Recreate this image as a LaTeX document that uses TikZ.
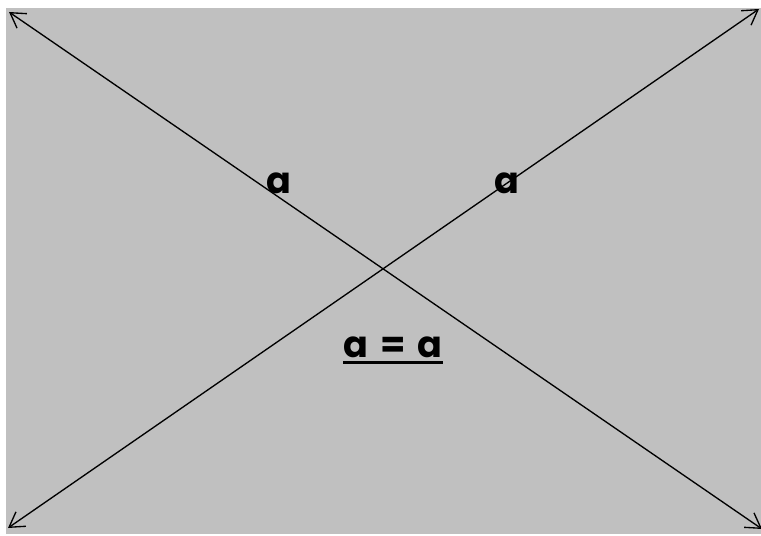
\documentclass[tikz,border=0pt]{standalone}
\usepackage{fontspec}
\setmainfont{Poppins}
\usetikzlibrary{arrows.meta,positioning}
\definecolor{panelgrey}{HTML}{C0C0C0}

\begin{document}
\begin{tikzpicture}[x=0.025cm, y=-0.025cm,
  every node/.style={font=\fontsize{26}{31}\selectfont\bfseries, inner sep=0pt},
  diag/.style={line width=0.95pt, {Straight Barb[length=10.3pt, width=12.5pt]}-{Straight Barb[length=10.3pt, width=12.5pt]}}]
  % frame and grey panel
  \useasboundingbox (0,0) rectangle (761,536);
  \fill[panelgrey] (6,8) rectangle (761,534);

  % corner ends of the two diagonals
  \coordinate (tl) at (9,12);
  \coordinate (br) at (762,529);
  \coordinate (bl) at (8,528);
  \coordinate (tr) at (759,9);

  \draw[diag] (tl) -- (br);
  \draw[diag] (bl) -- (tr);

  % labels
  \node (lefta) at (279,183) {a};
  \node (righta) at (507,183) {a};
  \node (eq) at (393,347) {a\hspace{0.32em}=\hspace{0.32em}a};
  \draw[line width=1.85pt] ([yshift=-0.12cm]eq.south west) -- ([yshift=-0.12cm]eq.south east);
\end{tikzpicture}
\end{document}
